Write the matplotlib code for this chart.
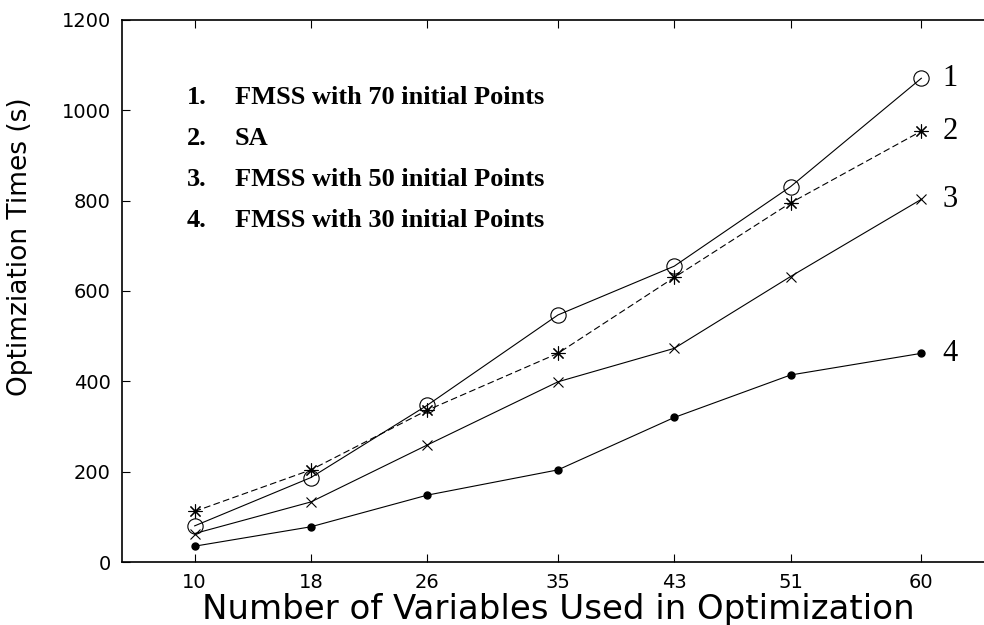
import matplotlib

matplotlib.use("Agg")
import matplotlib.pyplot as plt

# number of variables (x) and optimisation times in seconds (y)
n_vars = [10, 18, 26, 35, 43, 51, 60]
fmss_70 = [80, 187, 347, 547, 655, 831, 1071]
sa = [112, 204, 336, 462, 630, 795, 954]
fmss_50 = [63, 133, 259, 399, 473, 632, 803]
fmss_30 = [35, 78, 148, 204, 320, 414, 462]

legend_nums = ["1.", "2.", "3.", "4."]
legend_names = [
    "FMSS with 70 initial Points",
    "SA",
    "FMSS with 50 initial Points",
    "FMSS with 30 initial Points",
]
end_labels = ["1", "2", "3", "4"]

W, H = 984, 625
fig = plt.figure(figsize=(W / 100, H / 100), dpi=100)
ax = fig.add_axes([122 / W, 1 - 562 / H, (994 - 122) / W, (562 - 20) / H])

lw = 0.8
ax.plot(n_vars, fmss_70, color="black", lw=lw, marker="o", ms=11,
        mfc="none", mec="black", mew=0.8)
ax.plot(n_vars, sa, color="black", lw=lw, ls=(0, (6, 3)), marker=(8, 2, 0),
        ms=10, mec="black", mew=0.8)
ax.plot(n_vars, fmss_50, color="black", lw=lw, marker="x", ms=7,
        mec="black", mew=0.8)
ax.plot(n_vars, fmss_30, color="black", lw=lw, marker="o", ms=5,
        mfc="black", mec="black")

for series, lab in zip([fmss_70, sa, fmss_50, fmss_30], end_labels):
    ax.annotate(lab, (n_vars[-1], series[-1]), xytext=(15, 0),
                textcoords="offset points", va="center", ha="left",
                fontsize=22, family="Liberation Serif")

for i, (num, name) in enumerate(zip(legend_nums, legend_names)):
    y = 1 - (98 - 20 + i * 40.7) / 542
    ax.text((187 - 122) / 872, y, num, transform=ax.transAxes, va="center",
            ha="left", fontsize=19, fontweight="bold", family="Liberation Serif")
    ax.text((235 - 122) / 872, y, name, transform=ax.transAxes, va="center",
            ha="left", fontsize=19, fontweight="bold", family="Liberation Serif")

ax.set_xlim(5, 65)
ax.set_ylim(0, 1200)
ax.set_xticks(n_vars)
ax.set_yticks(range(0, 1201, 200))
ax.tick_params(direction="in", length=6, width=0.8, top=True, right=False,
               labelsize=14, pad=8)
for side in ["left", "bottom", "top"]:
    ax.spines[side].set_linewidth(1.2)
ax.spines["right"].set_visible(False)

fig.text(558 / W, 1 - 619 / H, "Number of Variables Used in Optimization",
         ha="center", va="baseline", fontsize=24.5, family="DejaVu Sans")
fig.text(20 / W, 1 - 247 / H, "Optimziation Times (s)", rotation=90,
         ha="center", va="center", fontsize=19, family="DejaVu Sans")

fig.savefig("out.png", dpi=100)
